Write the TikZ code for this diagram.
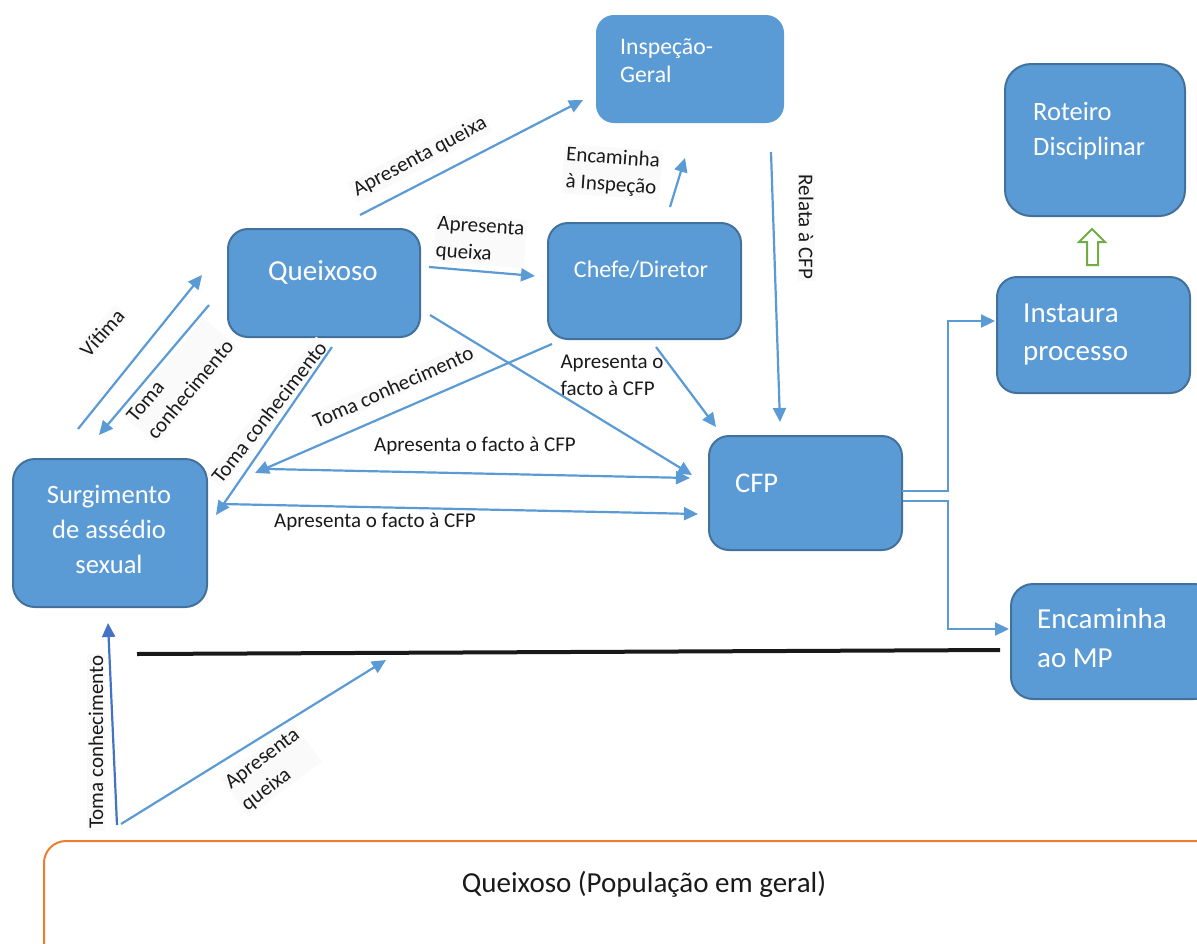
\documentclass[tikz,border=0pt]{standalone}
\usepackage{fontspec}
\setmainfont{Carlito}
\usetikzlibrary{arrows.meta}
\definecolor{boxfill}{HTML}{5B9BD5}
\definecolor{boxline}{HTML}{41719C}
\definecolor{arrblue}{HTML}{5B9BD5}
\definecolor{darkblue}{HTML}{4472C4}
\definecolor{orangeline}{HTML}{ED7D31}
\definecolor{greenline}{HTML}{70AD47}
\definecolor{txt}{HTML}{1A1A1A}
\definecolor{lblbg}{HTML}{FAFAFA}
\begin{document}
\begin{tikzpicture}[x=1pt,y=-1pt,
  box/.style={draw=boxline, line width=2pt, fill=boxfill, rounded corners=20pt, anchor=north west, inner sep=0pt},
  boxtext/.style={text=white, inner sep=0pt},
  lbl/.style={text=txt, font=\fontsize{21}{27}\selectfont, inner sep=2pt, fill=lblbg},
  arr/.style={draw=arrblue, line width=2.2pt, -{Triangle[length=14pt,width=13pt]}}
]
\useasboundingbox (0,0) rectangle (1197,943);
\fill[white] (0,0) rectangle (1197,943);

% boxes
\node[box, draw=none, rounded corners=18pt, minimum width=188pt, minimum height=108pt] (insp) at (595,14) {};
\node[box, rounded corners=26pt, minimum width=180pt, minimum height=152pt] (rot) at (1004,63) {};
\node[box, minimum width=192pt, minimum height=108pt] (queix) at (227,228) {};
\node[box, minimum width=193pt, minimum height=116pt] (chefe) at (547,222) {};
\node[box, minimum width=193pt, minimum height=116pt] (inst) at (996,276) {};
\node[box, minimum width=193pt, minimum height=114pt] (cfp) at (708,435) {};
\node[box, rounded corners=22pt, minimum width=194pt, minimum height=148pt] (surg) at (12,458) {};
\node[box, rounded corners=22pt, minimum width=205pt, minimum height=115pt] (mp) at (1010,583) {};
\draw[orangeline, line width=2pt, rounded corners=22pt] (44,841) rectangle (1260,1000);

% box texts
\node[boxtext, anchor=west, align=left, font=\fontsize{23.7}{28}\selectfont] (tinsp) at (620,61) {Inspeção-\\Geral};
\node[boxtext, anchor=west, align=left, font=\fontsize{26.5}{35}\selectfont] (trot) at (1033,131) {Roteiro\\Disciplinar};
\node[boxtext, anchor=base, font=\fontsize{29}{35}\selectfont] (tqueix) at (323,280) {Queixoso};
\node[boxtext, anchor=base, font=\fontsize{24}{30}\selectfont] (tchefe) at (641,277) {Chefe/Diretor};
\node[boxtext, anchor=west, align=left, font=\fontsize{29}{38}\selectfont] (tinst) at (1023,335) {Instaura\\processo};
\node[boxtext, anchor=base west, font=\fontsize{28.5}{34}\selectfont] (tcfp) at (735,492) {CFP};
\node[boxtext, align=center, font=\fontsize{26.5}{35}\selectfont] (tsurg) at (109,529) {Surgimento\\de assédio\\sexual};
\node[boxtext, anchor=west, align=left, font=\fontsize{29}{39}\selectfont] (tmp) at (1037,638) {Encaminha\\ao MP};
\node[text=txt, inner sep=0pt, font=\fontsize{29}{35}\selectfont] (tpop) at (644,884) {Queixoso (População em geral)};

% labels
\node[lbl, rotate=28] (l1) at (420,157) {Apresenta queixa};
\node[lbl, rotate=-4, align=left] (l2) at (480,241) {Apresenta\\queixa};
\node[lbl, rotate=-4, align=center] (l3) at (612,172) {Encaminha\\à Inspeção};
\node[lbl, rotate=-90] (l4) at (806,227) {Relata à CFP};
\node[lbl, align=left, fill=none] (l5) at (612,375) {Apresenta o\\facto à CFP};
\node[lbl, rotate=24] (l6) at (393,387) {Toma conhecimento};
\node[lbl, fill=none] (l7) at (475,446) {Apresenta o facto à CFP};
\node[lbl, fill=none] (l8) at (375,522) {Apresenta o facto à CFP};
\node[lbl, rotate=52] (l9) at (269,412) {Toma conhecimento};
\node[lbl, rotate=48] (l10) at (102,333) {Vítima};
\node[lbl, rotate=50, align=left] (l11) at (180,381) {Toma\\conhecimento};
\node[lbl, rotate=90] (l12) at (96,742) {Toma conhecimento};
\node[lbl, rotate=37, align=left] (l13) at (271,770) {Apresenta\\queixa};

% connector end points
\coordinate (a1s) at (360,215); \coordinate (a1e) at (583,100);
\coordinate (a2s) at (429,267); \coordinate (a2e) at (535,276);
\coordinate (a3s) at (670,207); \coordinate (a3e) at (685,158);
\coordinate (a4s) at (771,152); \coordinate (a4e) at (780,422);
\coordinate (a5s) at (656,347); \coordinate (a5e) at (716,427);
\coordinate (a6s) at (430,315); \coordinate (a6e) at (692,475);
\coordinate (a7s) at (552,344); \coordinate (a7e) at (255,473);
\coordinate (a8s) at (268,469); \coordinate (a8e) at (690,478);
\coordinate (a9s) at (222,504); \coordinate (a9e) at (698,514);
\coordinate (a10s) at (332,347); \coordinate (a10e) at (216,515);
\coordinate (a11s) at (78,429); \coordinate (a11e) at (202,275);
\coordinate (a12s) at (209,305); \coordinate (a12e) at (99,435);
\coordinate (a13s) at (117,825); \coordinate (a13e) at (108,623);
\coordinate (a14s) at (121,824); \coordinate (a14e) at (386,660);
\coordinate (c1s) at (902,491); \coordinate (c1e) at (995,321);
\coordinate (c2s) at (903,501); \coordinate (c2e) at (1009,629);
\coordinate (bl1) at (137,654); \coordinate (bl2) at (1000,650);

% connectors
\draw[arr] (a1s) -- (a1e);
\draw[arr] (a2s) -- (a2e);
\draw[arr] (a3s) -- (a3e);
\draw[arr] (a4s) -- (a4e);
\draw[arr] (a5s) -- (a5e);
\draw[arr] (a6s) -- (a6e);
\draw[arr] (a7s) -- (a7e);
\draw[arr] (a8s) -- (a8e);
\draw[arr] (a9s) -- (a9e);
\draw[arr] (a10s) -- (a10e);
\draw[arr] (a11s) -- (a11e);
\draw[arr] (a12s) -- (a12e);
\draw[arr, draw=darkblue] (a13s) -- (a13e);
\draw[arr] (a14s) -- (a14e);
\draw[arr] (c1s) -- (948,491) |- (c1e);
\draw[arr] (c2s) -- (948,501) |- (c2e);
\draw[line width=4pt, color=black!90] (bl1) -- (bl2);

% block arrow Instaura -> Roteiro
\draw[greenline, line width=2pt, fill=white, line join=miter]
  (1092,229) -- (1105,242) -- (1098,242) -- (1098,265) -- (1087,265) -- (1087,242) -- (1079,242) -- cycle;
\end{tikzpicture}
\end{document}
